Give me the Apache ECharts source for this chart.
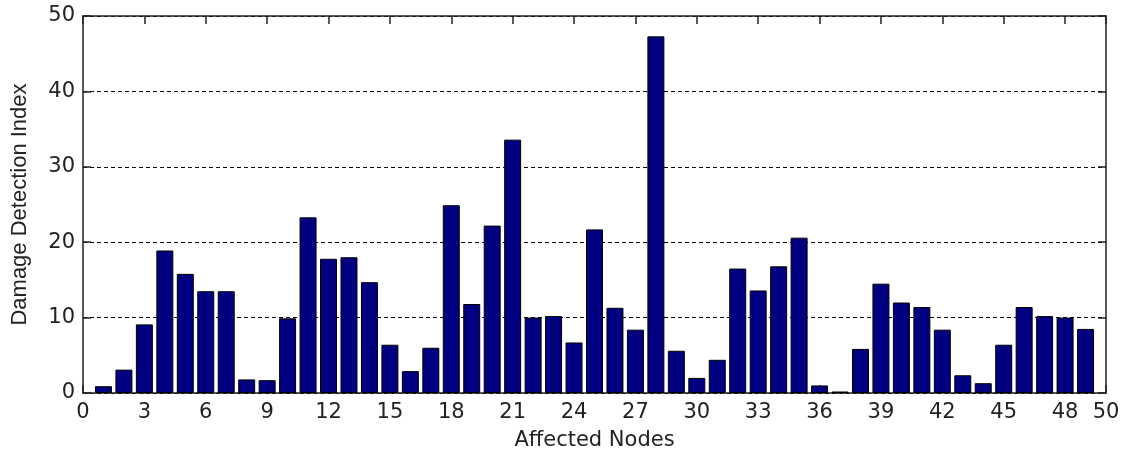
<!DOCTYPE html>
<html>
<head>
<meta charset="utf-8">
<script src="https://cdn.jsdelivr.net/npm/echarts@6/dist/echarts.min.js"></script>
<style>
  html, body { margin: 0; padding: 0; background: #fff; }
  #chart { width: 1126px; height: 456px; }
</style>
</head>
<body>
<div id="chart"></div>
<script>
// Data
const nodes = [1,2,3,4,5,6,7,8,9,10,11,12,13,14,15,16,17,18,19,20,21,22,23,24,25,
               26,27,28,29,30,31,32,33,34,35,36,37,38,39,40,41,42,43,44,45,46,47,48,49];
const damageIndex = [0.9,3.1,9.1,18.9,15.8,13.5,13.5,1.8,1.7,9.9,23.3,17.8,18.0,14.7,6.4,
                     2.9,6.0,24.9,11.8,22.2,33.6,10.0,10.2,6.7,21.7,11.3,8.4,47.3,5.6,2.0,
                     4.4,16.5,13.6,16.8,20.6,1.0,0.2,5.85,14.5,12.0,11.4,8.4,2.35,1.3,6.4,
                     11.4,10.2,10.0,8.5];
const xTitle = 'Affected Nodes';
const yTitle = 'Damage Detection Index';

const seriesData = nodes.map((n, i) => [n, damageIndex[i]]);

const wideFont = '"DejaVu Sans", Verdana, sans-serif';
const font = '"Liberation Sans", Arial, Helvetica, sans-serif';
const textColor = '#222';
const axisLine = { show: true, onZero: false, lineStyle: { color: '#222', width: 1.5 } };
const tick = { show: true, inside: true, length: 8, lineStyle: { color: '#222', width: 1.5 } };

const chart = echarts.init(document.getElementById('chart'), null, { renderer: 'canvas' });
chart.setOption({
  animation: false,
  backgroundColor: '#fff',
  grid: { left: 83, right: 20, top: 16, bottom: 59, containLabel: false },
  xAxis: [
    {
      type: 'value', position: 'bottom', min: 0, max: 50, interval: 3,
      axisLine: axisLine,
      axisTick: tick,
      axisLabel: { color: textColor, fontFamily: wideFont, fontSize: 21, margin: 9 },
      splitLine: { show: false },
      name: xTitle, nameLocation: 'middle', nameGap: 37,
      nameTextStyle: { color: textColor, fontFamily: wideFont, fontSize: 21 }
    },
    {
      type: 'value', position: 'top', min: 0, max: 50, interval: 3,
      axisLine: axisLine,
      axisTick: tick,
      axisLabel: { show: false },
      splitLine: { show: false }
    }
  ],
  yAxis: [
    {
      type: 'value', position: 'left', min: 0, max: 50, interval: 10,
      axisLine: axisLine,
      axisTick: tick,
      axisLabel: { color: textColor, fontFamily: wideFont, fontSize: 21, margin: 8 },
      splitLine: { show: true, lineStyle: { color: '#000', width: 1, type: [4, 3] } },
      name: yTitle, nameLocation: 'middle', nameGap: 52,
      nameTextStyle: { color: textColor, fontFamily: font, fontSize: 22 }
    },
    {
      type: 'value', position: 'right', min: 0, max: 50, interval: 10,
      axisLine: axisLine,
      axisTick: tick,
      axisLabel: { show: false },
      splitLine: { show: false }
    }
  ],
  series: [
    {
      type: 'bar',
      xAxisIndex: 0, yAxisIndex: 0,
      data: seriesData,
      barWidth: '83%',
      itemStyle: { color: '#000080', borderColor: '#000', borderWidth: 1 }
    }
  ]
});
</script>
</body>
</html>
